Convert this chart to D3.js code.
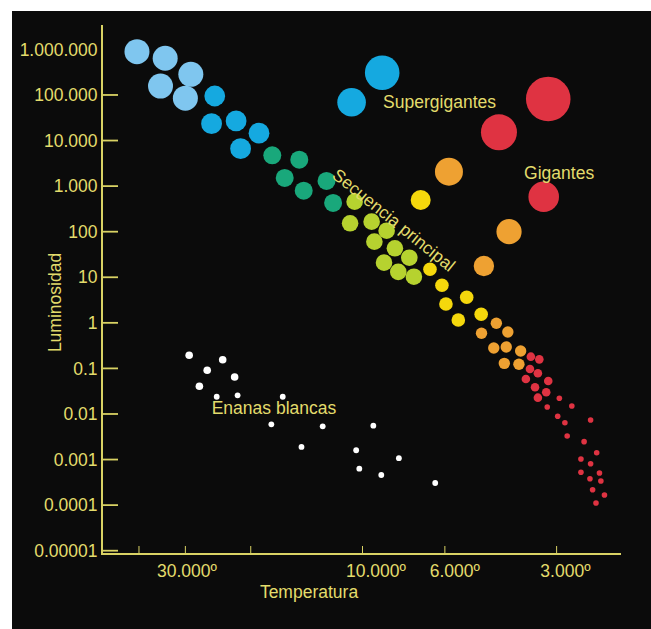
<!DOCTYPE html>
<html>
<head>
<meta charset="utf-8">
<script src="https://cdn.jsdelivr.net/npm/d3@7"></script>
<style>
  html, body { margin: 0; padding: 0; background: #ffffff; }
  svg { display: block; }
  text { font-family: "Liberation Sans", Arial, sans-serif; }
</style>
</head>
<body>
<svg id="chart" width="651" height="629"></svg>
<script>
// ---------------- DATA ----------------
// Main sequence stars: temperature (K), luminosity (L/Lsun), spectral group
const msTemperature = [40500, 34000, 29000, 35000, 30000,
  25000, 25500, 21900, 19000, 21300,
  17500, 14800, 16200, 14400, 12500, 12000,
  10500, 10800, 9450, 8610, 9290, 8180, 7480, 8750, 8010, 7270,
  6580, 6110, 5240, 5960, 5520, 4790,
  4360, 4780, 4060, 4430, 4100, 3750, 4150, 3790,
  3520, 3340, 3540, 3370, 3630, 3160, 3430, 3200, 3370,
  2950, 2730, 3180, 2980, 2850, 2430, 2810, 2530, 2340, 2580, 2430, 2580, 2300, 2440, 2280, 2400, 2230, 2350];
const msLuminosity = [890000, 640000, 284000, 157000, 85000,
  95000, 23400, 26900, 14500, 6640,
  4750, 3800, 1510, 794, 1300, 427,
  456, 153, 166, 105, 60.4, 43.3, 26.9, 20.9, 13.1, 10.3,
  15.0, 6.67, 3.64, 2.59, 1.155, 1.54,
  0.977, 0.59, 0.63, 0.281, 0.295, 0.241, 0.129, 0.123,
  0.181, 0.158, 0.097, 0.0782, 0.0586, 0.053, 0.0385, 0.0299, 0.0228,
  0.0221, 0.015, 0.0142, 0.0089, 0.00644, 0.00738, 0.00329, 0.00247, 0.00141, 0.00103, 0.00081, 0.000525, 0.000507, 0.00038, 0.000338, 0.000218, 0.000167, 0.000111];
const msGroup = ["O","O","O","O","O",
  "B","B","B","B","B",
  "A","A","A","A","A","A",
  "F","F","F","F","F","F","F","F","F","F",
  "G","G","G","G","G","G",
  "K","K","K","K","K","K","K","K",
  "M","M","M","M","M","M","M","M","M",
  "m","m","m","m","m","m","m","m","m","m","m","m","m","m","m","m","m","m"];

// Giants and supergiants
const giantTemperature = [8850, 10700, 3160, 4290, 5850, 6970, 3250, 4030, 4710];
const giantLuminosity  = [308000, 69200, 81700, 15200, 2070, 497, 586, 100, 17.7];
const giantGroup = ["sgBlueA", "sgBlueB", "sgRedA", "sgRedB", "gOrangeA", "gYellow", "gRedC", "gOrangeB", "gOrangeC"];

// White dwarfs
const wdTemperature = [29300, 23800, 26200, 22100, 27500, 24700, 21700, 16400, 17600, 12800, 9350, 14600, 10400, 7980, 10200, 8900, 6370];
const wdLuminosity  = [0.194, 0.155, 0.091, 0.0649, 0.0406, 0.0239, 0.0257, 0.0239, 0.00594, 0.00537, 0.00553, 0.00189, 0.0016, 0.00107, 0.00063, 0.000458, 0.000306];
const wdGroup = ["WD","WD","WD","WD","WD","wd","wd","wd","wd","wd","wd","wd","wd","wd","wd","wd","wd"];

// Axes
const yTickValues = [1e6, 1e5, 1e4, 1e3, 100, 10, 1, 0.1, 0.01, 0.001, 0.0001, 0.00001];
const yTickLabels = ["1.000.000", "100.000", "10.000", "1.000", "100", "10", "1", "0.1", "0.01", "0.001", "0.0001", "0.00001"];
const xTickValues = [40000, 30000, 20000, 10000, 6000, 3000];
const xLabelTemps = [29700, 9200, 5640, 2840];
const xTickLabels = ["30.000º", "10.000º", "6.000º", "3.000º"];

// Region annotations (temperature, luminosity anchor)
const annotations = [
  { text: "Supergigantes", t: 8800, l: 71000, anchor: "start", rotate: 0 },
  { text: "Gigantes", t: 3670, l: 2000, anchor: "start", rotate: 0 },
  { text: "Enanas blancas", t: 25480, l: 0.0133, anchor: "start", rotate: 0 },
  { text: "Secuencia principal", t: 8230, l: 181, anchor: "middle", rotate: 39 }
];

// ---------------- STYLES ----------------
const styles = {
  O: { color: "#7fc6ef", r: 12.5 },
  B: { color: "#15a9e0", r: 10.4 },
  A: { color: "#19a87b", r: 9 },
  F: { color: "#b6d22f", r: 8.3 },
  G: { color: "#f5d80c", r: 6.8 },
  K: { color: "#eea132", r: 5.7 },
  M: { color: "#df3342", r: 4.3 },
  m: { color: "#df3342", r: 2.8 },
  sgBlueA: { color: "#15a9e0", r: 17.3 },
  sgBlueB: { color: "#15a9e0", r: 14.3 },
  sgRedA: { color: "#df3342", r: 22.3 },
  sgRedB: { color: "#df3342", r: 18 },
  gOrangeA: { color: "#eea132", r: 14 },
  gYellow: { color: "#f5d80c", r: 10 },
  gRedC: { color: "#df3342", r: 15.3 },
  gOrangeB: { color: "#eea132", r: 12.6 },
  gOrangeC: { color: "#eea132", r: 10.2 },
  WD: { color: "#ffffff", r: 3.8 },
  wd: { color: "#ffffff", r: 2.9 }
};
const textColor = "#e3dc6c";
const axisColor = "#d9d264";
const fontSize = 17.5;

// ---------------- CHART ----------------
const svg = d3.select("#chart");
svg.append("rect").attr("x", 12).attr("y", 11).attr("width", 651 - 12).attr("height", 629 - 11).attr("fill", "#0b0b0b");

const x = d3.scaleLog().domain([50000, 2000]).range([103, 622]);
const y = d3.scaleLog().domain([1e-5, 1e6]).range([550.7, 49.4]);

const axisX0 = 102, axisY1 = 554;

// Y axis line
svg.append("line").attr("x1", axisX0).attr("x2", axisX0).attr("y1", 25).attr("y2", axisY1 + 1)
  .attr("stroke", axisColor).attr("stroke-width", 2);
// Y ticks (inward), none at the top value
svg.append("g").selectAll("line").data(yTickValues.slice(1)).join("line")
  .attr("x1", axisX0).attr("x2", 118)
  .attr("y1", d => y(d)).attr("y2", d => y(d))
  .attr("stroke", axisColor).attr("stroke-width", 1.8);
svg.append("g").selectAll("text").data(yTickValues).join("text")
  .attr("x", 97.5).attr("y", d => y(d))
  .attr("dy", "0.35em").attr("text-anchor", "end")
  .attr("fill", textColor).attr("font-size", fontSize)
  .text((d, i) => yTickLabels[i]);

// X axis line
svg.append("line").attr("x1", axisX0).attr("x2", 621).attr("y1", axisY1).attr("y2", axisY1)
  .attr("stroke", axisColor).attr("stroke-width", 2);
svg.append("g").selectAll("line").data(xTickValues).join("line")
  .attr("x1", d => x(d)).attr("x2", d => x(d))
  .attr("y1", axisY1 - 8).attr("y2", axisY1)
  .attr("stroke", axisColor).attr("stroke-width", 1);
svg.append("g").selectAll("text").data(xLabelTemps).join("text")
  .attr("x", d => x(d)).attr("y", 571)
  .attr("dy", "0.35em").attr("text-anchor", "middle")
  .attr("fill", textColor).attr("font-size", fontSize)
  .text((d, i) => xTickLabels[i]);

// Axis titles
svg.append("text").attr("x", 309).attr("y", 598)
  .attr("text-anchor", "middle").attr("fill", textColor).attr("font-size", fontSize)
  .text("Temperatura");
svg.append("text").attr("transform", "translate(55,302.5) rotate(-90)")
  .attr("dy", "0.35em").attr("text-anchor", "middle").attr("fill", textColor).attr("font-size", fontSize)
  .text("Luminosidad");

// Stars
function drawStars(temps, lums, groups) {
  const data = temps.map((t, i) => ({ t, l: lums[i], g: groups[i] }));
  svg.append("g").selectAll("circle").data(data).join("circle")
    .attr("cx", d => x(d.t)).attr("cy", d => y(d.l))
    .attr("r", d => styles[d.g].r)
    .attr("fill", d => styles[d.g].color);
}
drawStars(msTemperature, msLuminosity, msGroup);
drawStars(giantTemperature, giantLuminosity, giantGroup);
drawStars(wdTemperature, wdLuminosity, wdGroup);

// Annotations
svg.append("g").selectAll("text").data(annotations).join("text")
  .attr("transform", d => `translate(${x(d.t)},${y(d.l)}) rotate(${d.rotate})`)
  .attr("dy", "0.35em").attr("text-anchor", d => d.anchor)
  .attr("fill", textColor).attr("font-size", fontSize)
  .text(d => d.text);
</script>
</body>
</html>
